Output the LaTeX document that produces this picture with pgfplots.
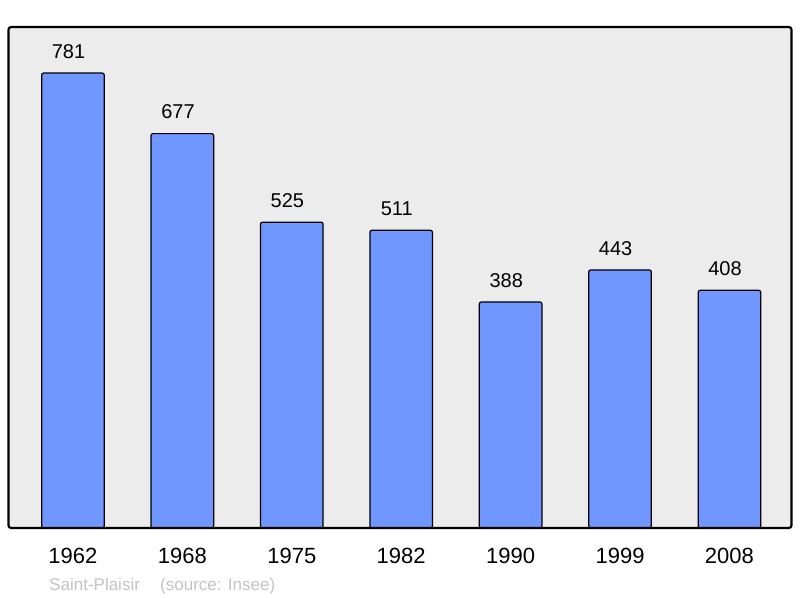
\documentclass[border=0pt]{standalone}
\usepackage{fontspec}
\setmainfont{Liberation Sans}
\usepackage{pgfplots}
\pgfplotsset{compat=1.18}
\definecolor{barblue}{RGB}{112,150,255}
\definecolor{panel}{RGB}{236,236,236}
\definecolor{srcgray}{RGB}{195,195,195}
\begin{document}
\begin{tikzpicture}
\path[use as bounding box] (-6.375pt,-52.5pt) rectangle (593.625pt,396pt);
\begin{axis}[
    at={(0,0)}, anchor=south west,
    scale only axis, width=587.25pt, height=375.75pt,
    xmin=-0.589, xmax=6.567, ymin=0, ymax=860,
    axis line style={draw=none},
    axis background/.style={fill=panel},
    ytick=\empty,
    xtick=data,
    xticklabels={1962,1968,1975,1982,1990,1999,2008},
    major tick length=0pt,
    xticklabel style={anchor=base, yshift=-27pt, font=\fontsize{16.5}{19}\selectfont},
    ybar, bar width=0.572,
    /pgf/number format/assume math mode=true,
    nodes near coords,
    nodes near coords style={anchor=base, xshift=-3.3pt, yshift=11pt, font=\fontsize{15}{18}\selectfont},
]
\addplot[fill=barblue, draw=black, line width=0.9pt, rounded corners=1.5pt]
    coordinates {(0,781)(1,677)(2,525)(3,511)(4,388)(5,443)(6,408)};
\end{axis}
\draw[line width=1.6pt, rounded corners=2pt] (current axis.south west) rectangle (current axis.north east);
\node[anchor=base west, inner sep=0pt, text=srcgray, font=\fontsize{12.75}{15}\selectfont] at (30.375pt,-47.25pt) {Saint-Plaisir};
\node[anchor=base west, inner sep=0pt, text=srcgray, font=\fontsize{12.75}{15}\selectfont] at (113.6pt,-47.25pt) {(source: Insee)};
\end{tikzpicture}
\end{document}
